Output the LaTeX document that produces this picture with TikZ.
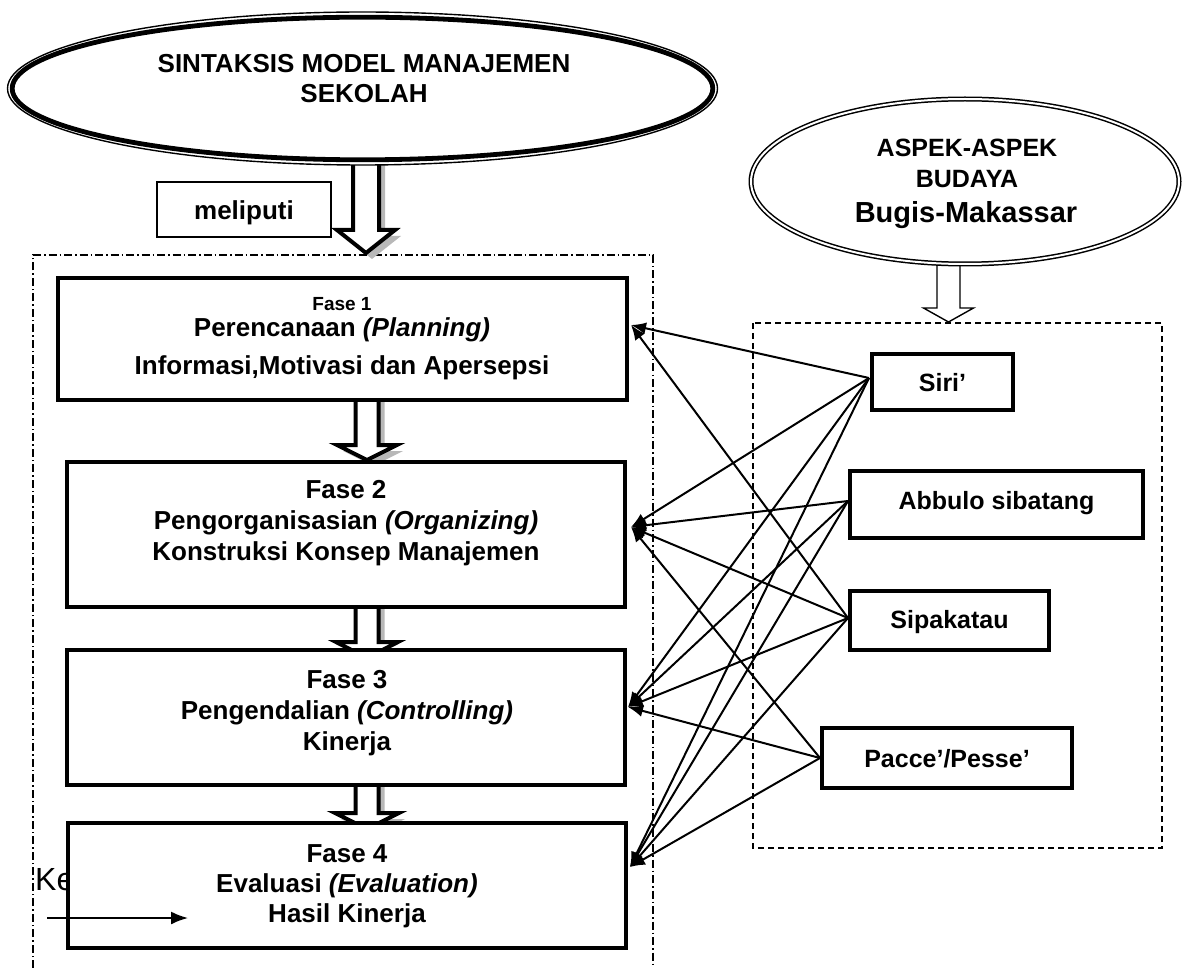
\documentclass[tikz,border=0pt]{standalone}
\usepackage{fontspec}
\setmainfont{Liberation Sans}
\usetikzlibrary{shapes.geometric,arrows.meta}
\newcommand\blockarr[7]{\path[#1] (#2-#3,#5) -- (#2-#3,#6) -- (#2-#4,#6) -- (#2,#7) -- (#2+#4,#6) -- (#2+#3,#6) -- (#2+#3,#5) -- cycle;}
\begin{document}
\begin{tikzpicture}[x=1pt,y=-1pt,
  fasebox/.style={draw, rectangle, line width=4.5pt, fill=white, inner sep=0pt},
  culbox/.style={draw, rectangle, line width=4.5pt, fill=white, inner sep=0pt},
  tx/.style={font=\fontsize{26}{31}\selectfont\bfseries, inner sep=0pt, anchor=base},
  txs/.style={font=\fontsize{19}{23}\selectfont\bfseries, inner sep=0pt, anchor=base},
  conn/.style={line width=2pt, -{Latex[length=15pt,width=12pt]}},
  shadowarr/.style={fill=black!28, shift={(6,6)}},
  thickarr/.style={draw, fill=white, line width=4pt, line join=miter},
  thinarr/.style={draw, fill=white, line width=1.4pt, line join=miter}]
\useasboundingbox (0,0) rectangle (1189,968);

% grouping frames
\draw[line width=1.3pt, dash pattern=on 8pt off 3pt on 1.5pt off 3pt] (33,968) -- (33,255) -- (653,255) -- (653,968);
\draw[line width=1.3pt, dash pattern=on 6pt off 4pt] (753,323) rectangle (1162,848);

% block arrows
\blockarr{shadowarr}{366}{13}{29}{150}{230}{253}
\blockarr{thickarr}{366}{13}{29}{150}{230}{253}
\blockarr{shadowarr}{367}{11.5}{30}{395}{445}{460}
\blockarr{thickarr}{367}{11.5}{30}{395}{445}{460}
\blockarr{shadowarr}{367}{11.5}{31}{600}{642}{658}
\blockarr{thickarr}{367}{11.5}{31}{600}{642}{658}
\blockarr{shadowarr}{367}{11.5}{32}{780}{813}{829}
\blockarr{thickarr}{367}{11.5}{32}{780}{813}{829}
\blockarr{thinarr}{948.5}{11.5}{25}{255}{308}{322}

% ellipses
\node[ellipse, draw, fill=white, line width=1.4pt, minimum width=710pt, minimum height=153pt, inner sep=0pt] (sint) at (362.5,88.5) {};
\draw[line width=4.8pt] (sint.center) ellipse [x radius=350.3, y radius=71.3];
\node[tx] (sint1) at (364,73) {SINTAKSIS MODEL MANAJEMEN};
\node[tx] (sint2) at (364,103) {SEKOLAH};

\node[ellipse, draw, fill=white, double, line width=1.5pt, double distance=2pt, minimum width=428pt, minimum height=165pt, inner sep=0pt] (aspek) at (965,181.5) {};
\node[tx, font=\fontsize{25}{30}\selectfont\bfseries] (asp1) at (967,157) {ASPEK-ASPEK};
\node[tx, font=\fontsize{25}{30}\selectfont\bfseries] (asp2) at (967,188) {BUDAYA};
\node[tx, font=\fontsize{29}{34}\selectfont\bfseries] (asp3) at (966,223) {Bugis-Makassar};

% meliputi
\node[draw, rectangle, line width=1.4pt, minimum width=174pt, minimum height=55pt, inner sep=0pt] (mel) at (244,209.5) {};
\node[tx] (meltx) at (244,220) {meliputi};

% legend text (partly hidden)
\node[anchor=base west, font=\fontsize{32}{38}\selectfont, inner sep=0pt] (ke) at (35,890) {Ke};

% phase boxes
\node[fasebox, minimum width=569pt, minimum height=122pt] (f1) at (342.5,339) {};
\node[fasebox, minimum width=558pt, minimum height=145pt] (f2) at (346,534.5) {};
\node[fasebox, minimum width=558pt, minimum height=135pt] (f3) at (346,717.5) {};
\node[fasebox, minimum width=558pt, minimum height=125pt] (f4) at (347,885.5) {};

\node[txs] (f1a) at (342,311) {Fase 1};
\node[tx] (f1b) at (342,337) {Perencanaan \textit{(Planning)}};
\node[tx] (f1c) at (342,374) {Informasi,Motivasi dan Apersepsi};

\node[tx] (f2a) at (346,498) {Fase 2};
\node[tx] (f2b) at (346,529) {Pengorganisasian \textit{(Organizing)}};
\node[tx] (f2c) at (346,560) {Konstruksi Konsep Manajemen};

\node[tx] (f3a) at (347,688) {Fase 3};
\node[tx] (f3b) at (347,719) {Pengendalian \textit{(Controlling)}};
\node[tx] (f3c) at (347,750) {Kinerja};

\node[tx] (f4a) at (347,862) {Fase 4};
\node[tx] (f4b) at (347,892) {Evaluasi \textit{(Evaluation)}};
\node[tx] (f4c) at (347,922) {Hasil Kinerja};

% culture boxes
\node[culbox, minimum width=141pt, minimum height=56pt] (siri) at (942.5,382) {};
\node[culbox, minimum width=293pt, minimum height=67pt] (abbulo) at (996.5,504.5) {};
\node[culbox, minimum width=199pt, minimum height=59pt] (sipa) at (949.5,620.5) {};
\node[culbox, minimum width=250pt, minimum height=60pt] (pacce) at (947,758) {};
\node[tx, font=\fontsize{25}{30}\selectfont\bfseries] (siritx) at (942.5,391) {Siri’};
\node[tx, font=\fontsize{25}{30}\selectfont\bfseries] (abbtx) at (996.5,509) {Abbulo sibatang};
\node[tx, font=\fontsize{25}{30}\selectfont\bfseries] (sipatx) at (949.5,628) {Sipakatau};
\node[tx, font=\fontsize{25}{30}\selectfont\bfseries] (paccetx) at (947,767) {Pacce’/Pesse’};

% connector end points
\coordinate (t1) at (631,325);
\coordinate (t2) at (631,527);
\coordinate (t3) at (628,707);
\coordinate (t4) at (630,867);
\coordinate (s1) at (869,378);
\coordinate (s2) at (848,501);
\coordinate (s3) at (848,618);
\coordinate (s4) at (820,758);

\draw[conn] (s1) -- (t1);
\draw[conn] (s1) -- (t2);
\draw[conn] (s1) -- (t3);
\draw[conn] (s1) -- (t4);
\draw[conn] (s2) -- (t2);
\draw[conn] (s2) -- (t3);
\draw[conn] (s2) -- (t4);
\draw[conn] (s3) -- (t1);
\draw[conn] (s3) -- (t2);
\draw[conn] (s3) -- (t3);
\draw[conn] (s3) -- (t4);
\draw[conn] (s4) -- (t2);
\draw[conn] (s4) -- (t3);
\draw[conn] (s4) -- (t4);

% legend arrow
\coordinate (ka) at (47,918);
\coordinate (kb) at (188,918);
\draw[line width=1.8pt, -{Latex[length=17pt,width=13pt]}] (ka) -- (kb);
\end{tikzpicture}
\end{document}
